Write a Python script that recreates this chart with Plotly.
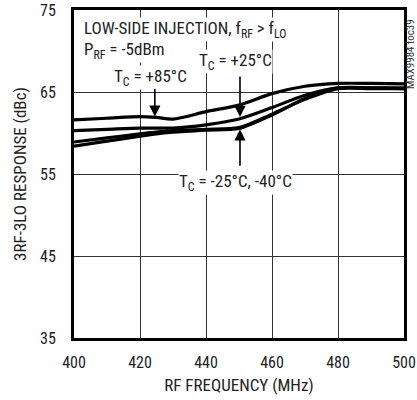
"""
3RF-3LO response vs RF frequency (low-side injection), one curve per case temperature.
"""

import plotly.graph_objects as go

# RF frequency (MHz)
freq = [400, 410, 420, 425, 430, 440, 450, 460, 470, 480, 490, 500]

# 3RF-3LO response (dBc) per case temperature
resp_85 = [61.6, 61.8, 62.0, 61.9, 61.7, 62.6, 63.4, 64.8, 65.7, 66.05, 66.05, 66.0]
resp_25 = [60.3, 60.45, 60.6, 60.6, 60.6, 61.0, 61.7, 63.1, 64.6, 65.5, 65.5, 65.5]
resp_m25 = [58.9, 59.4, 59.9, 60.1, 60.3, 60.45, 60.65, 62.3, 64.1, 65.4, 65.4, 65.4]
resp_m40 = [58.4, 59.0, 59.6, 59.9, 60.1, 60.35, 60.55, 62.2, 64.2, 65.5, 65.5, 65.4]

x_ticks = [400, 420, 440, 460, 480, 500]
y_ticks = [35, 45, 55, 65, 75]

FONT = "Roboto Condensed, Roboto, sans-serif"
TEXT = "#222222"

fig = go.Figure()
for ys in (resp_m40, resp_m25, resp_25, resp_85):
    fig.add_trace(go.Scatter(
        x=freq, y=ys, mode="lines",
        line=dict(color="black", width=3.2, shape="spline", smoothing=0.8),
        showlegend=False, hoverinfo="skip",
    ))

# text labels (white boxes cut the grid like the original)
labels = [
    dict(x=402.7, y=72.6, text="LOW-SIDE INJECTION, f<sub>RF</sub> > f<sub>LO</sub>", xanchor="left"),
    dict(x=402.7, y=70.1, text="P<sub>RF</sub> = -5dBm", xanchor="left"),
    dict(x=423.2, y=66.8, text="T<sub>C</sub> = +85°C", xanchor="center"),
    dict(x=448.9, y=68.7, text="T<sub>C</sub> = +25°C", xanchor="center"),
    dict(x=448.8, y=54.0, text="T<sub>C</sub> = -25°C, -40°C", xanchor="center"),
]
for lab in labels:
    fig.add_annotation(
        x=lab["x"], y=lab["y"], text=lab["text"], xanchor=lab["xanchor"], yanchor="middle",
        showarrow=False, bgcolor="white", borderpad=0,
        font=dict(family=FONT, size=17, color=TEXT),
    )

# arrows pointing at the curves
arrows = [
    dict(x=424.5, y=62.0, ay=-29),
    dict(x=450.3, y=61.95, ay=-42),
    dict(x=450.3, y=60.45, ay=38),
]
for a in arrows:
    fig.add_annotation(
        x=a["x"], y=a["y"], ax=0, ay=a["ay"], text="",
        showarrow=True, arrowhead=2, arrowsize=1.4, arrowwidth=1.6, arrowcolor="black",
    )

# part-number tag up the right edge
fig.add_annotation(
    xref="paper", yref="paper", x=1.0, y=1.0, xshift=6, yshift=-44,
    text="MAX9984 toc39", textangle=-90, showarrow=False,
    xanchor="center", yanchor="middle",
    font=dict(family=FONT, size=11, color="#333333"),
)

fig.update_layout(
    width=417, height=400,
    margin=dict(l=74, r=13, t=10, b=62),
    paper_bgcolor="white", plot_bgcolor="white",
    font=dict(family=FONT, size=16, color=TEXT),
    xaxis=dict(
        range=[400, 500], tickvals=x_ticks, ticks="", ticklabelstandoff=8,
        showgrid=True, gridcolor="#333333", gridwidth=1,
        showline=True, linecolor="black", linewidth=3, mirror=True,
        zeroline=False, automargin=False,
        title=dict(text="RF FREQUENCY (MHz)", standoff=8, font=dict(size=17)),
    ),
    yaxis=dict(
        range=[35, 75], tickvals=y_ticks, ticks="", ticklabelstandoff=12,
        showgrid=True, gridcolor="#333333", gridwidth=1,
        showline=True, linecolor="black", linewidth=3, mirror=True,
        zeroline=False, automargin=False,
        title=dict(text="3RF-3LO RESPONSE (dBc)", standoff=10, font=dict(size=17)),
    ),
)

# drop the page's default body margin so the figure sits at the window origin
fig.write_html("out.html", config={"displayModeBar": False},
               post_script="document.body.style.margin = '0';")
